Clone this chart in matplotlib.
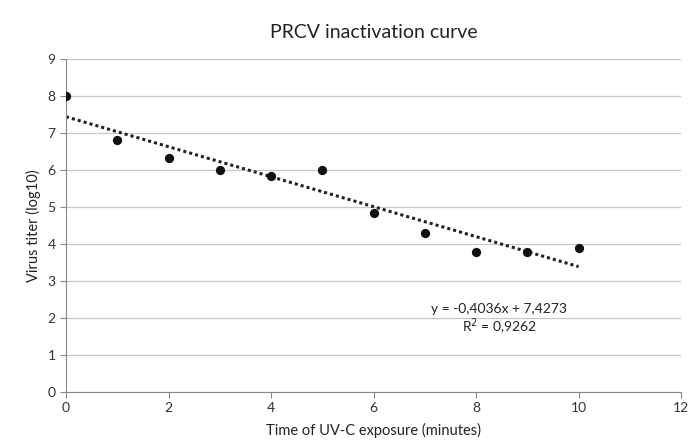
import numpy as np
import matplotlib.pyplot as plt

plt.rcParams['font.family'] = ['Lato', 'DejaVu Sans']

minutes = [0, 1, 2, 3, 4, 5, 6, 7, 8, 9, 10]
titer = [8.0, 6.8, 6.33, 6.0, 5.83, 6.0, 4.83, 4.3, 3.79, 3.79, 3.9]
eq_text = 'y = -0,4036x + 7,4273\nR$^2$ = 0,9262'

fig = plt.figure(figsize=(6.95, 4.44), dpi=100)
ax = fig.add_axes([0.095, 0.117, 0.885, 0.75])

# linear trendline
slope, intercept = np.polyfit(minutes, titer, 1)
xs = np.array([minutes[0], minutes[-1]])
ax.plot(xs, slope * xs + intercept, linestyle=(0, (1, 1)), color='#222222', lw=2.2, zorder=2)

ax.scatter(minutes, titer, s=32, color='#111111', zorder=3)

ax.set_xlim(0, 12)
ax.set_ylim(0, 9)
ax.set_xticks(range(0, 13, 2))
ax.set_yticks(range(0, 10))
ax.yaxis.grid(True, color='#c8c8c8', lw=0.9)
ax.set_axisbelow(True)
for s in ['top', 'right']:
    ax.spines[s].set_visible(False)
for s in ['left', 'bottom']:
    ax.spines[s].set_color('#888888')
ax.tick_params(axis='both', labelsize=10, colors='#333333', length=4, color='#888888')

ax.set_xlabel('Time of UV-C exposure (minutes)', fontsize=10.5, color='#222222', labelpad=6)
ax.set_ylabel('Virus titer (log10)', fontsize=10.5, color='#222222', labelpad=5)
ax.set_title('PRCV inactivation curve', fontsize=14, color='#222222', pad=15)

ax.text(8.45, 1.95, eq_text, ha='center', va='center', fontsize=10, color='#222222', linespacing=1.1)

fig.savefig('out.png', dpi=100, facecolor='white')
